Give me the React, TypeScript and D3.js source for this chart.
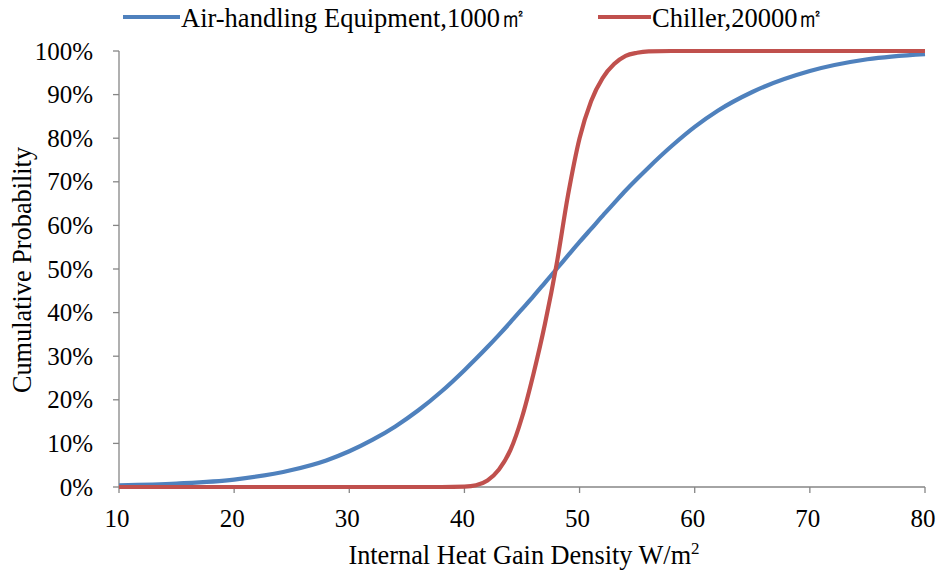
import React from "react";
import * as d3 from "d3";

const xValues = [10, 15, 20, 25, 28, 30, 32, 34, 36, 38, 40, 41, 42, 43, 44, 45, 46, 47, 48, 49, 50, 51, 52, 53, 54, 55, 56, 58, 60, 62, 65, 70, 75, 80];
const airHandling = [0.4, 0.8, 1.7, 3.9, 6.1, 8.2, 10.8, 13.9, 17.6, 21.9, 26.8, 29.4, 32.1, 34.9, 37.8, 40.8, 43.8, 46.9, 50.0, 53.1, 56.2, 59.2, 62.2, 65.1, 68.0, 70.7, 73.3, 78.2, 82.6, 86.3, 90.6, 95.4, 98.1, 99.3];
const chiller = [0, 0, 0, 0, 0, 0, 0, 0, 0, 0, 0.1, 0.4, 1.5, 4, 8.5, 16, 26, 37.5, 51, 67, 80, 88.5, 93.8, 97, 98.9, 99.6, 99.9, 100, 100, 100, 100, 100, 100, 100];
const xTicks = [10, 20, 30, 40, 50, 60, 70, 80];
const yTicks = [0, 10, 20, 30, 40, 50, 60, 70, 80, 90, 100];
const seriesNames = ["Air-handling Equipment,1000㎡", "Chiller,20000㎡"];
const seriesColors = ["#4F81BD", "#C0504D"];

export default function App() {
  const W = 938, H = 571;
  const x = d3.scaleLinear().domain([10, 80]).range([119, 925]);
  const y = d3.scaleLinear().domain([0, 100]).range([487, 51]);
  const line = d3
    .line<number>()
    .x((_, i) => x(xValues[i]))
    .y((d) => y(d))
    .curve(d3.curveMonotoneX);
  const font = "'Liberation Serif', 'Times New Roman', serif";
  const axisColor = "#868686";
  return (
    <svg width={W} height={H} style={{ position: "absolute", left: 0, top: 0 }} fontFamily={font}>
      <rect width={W} height={H} fill="#fff" />
      {/* y axis */}
      <line x1={x(10)} x2={x(10)} y1={y(0)} y2={y(100)} stroke={axisColor} strokeWidth={1.3} />
      {yTicks.map((t) => (
        <g key={t}>
          <line x1={x(10) - 6} x2={x(10)} y1={y(t)} y2={y(t)} stroke={axisColor} strokeWidth={1.3} />
          <text x={93} y={y(t)} dy="0.34em" textAnchor="end" fontSize={25} fill="#000">
            {t}%
          </text>
        </g>
      ))}
      {/* x axis */}
      <line x1={x(10)} x2={x(80)} y1={y(0)} y2={y(0)} stroke={axisColor} strokeWidth={1.3} />
      {xTicks.map((t) => (
        <g key={t}>
          <line x1={x(t)} x2={x(t)} y1={y(0)} y2={y(0) + 6} stroke={axisColor} strokeWidth={1.3} />
          <text x={x(t) - 2} y={527} textAnchor="middle" fontSize={25} fill="#000">
            {t}
          </text>
        </g>
      ))}
      {/* lines */}
      <path d={line(airHandling) || ""} fill="none" stroke={seriesColors[0]} strokeWidth={4.2} strokeLinejoin="round" />
      <path d={line(chiller) || ""} fill="none" stroke={seriesColors[1]} strokeWidth={4.2} strokeLinejoin="round" />
      {/* axis titles */}
      <text transform={`translate(31, 270) rotate(-90)`} textAnchor="middle" fontSize={26.3} fill="#000">
        Cumulative Probability
      </text>
      <text x={524} y={564} textAnchor="middle" fontSize={26.3} fill="#000">
        Internal Heat Gain Density W/m<tspan dy={-10} fontSize={17}>2</tspan>
      </text>
      {/* legend */}
      <line x1={123} x2={180} y1={17} y2={17} stroke={seriesColors[0]} strokeWidth={4.2} />
      <text x={181} y={27} fontSize={26.5} fill="#000">{seriesNames[0]}</text>
      <line x1={598} x2={651} y1={17} y2={17} stroke={seriesColors[1]} strokeWidth={4.2} />
      <text x={652} y={27} fontSize={26.5} fill="#000">{seriesNames[1]}</text>
    </svg>
  );
}
